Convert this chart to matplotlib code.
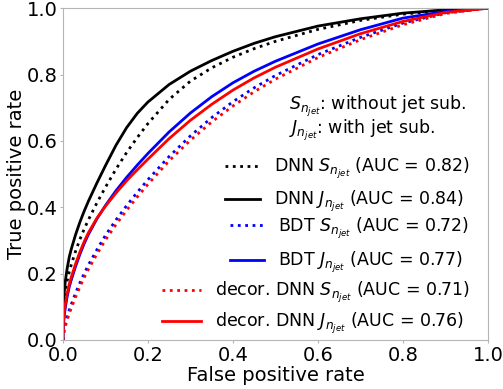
import numpy as np
import matplotlib
matplotlib.use('Agg')
import matplotlib.pyplot as plt

# ROC points
fpr = [0, 0.001, 0.003, 0.006, 0.01, 0.015, 0.02, 0.03, 0.04, 0.05, 0.06, 0.08,
       0.1, 0.125, 0.15, 0.175, 0.2, 0.25, 0.3, 0.35, 0.4, 0.45, 0.5,
       0.6, 0.7, 0.8, 0.9, 1.0]

tpr_dnn_s = [0, 0.07, 0.115, 0.15, 0.178, 0.205, 0.228, 0.268, 0.303, 0.334, 0.362, 0.413,
             0.46, 0.515, 0.565, 0.61, 0.652, 0.725, 0.78, 0.82, 0.852, 0.878, 0.9,
             0.936, 0.963, 0.982, 0.994, 1.0]
tpr_dnn_j = [0, 0.09, 0.14, 0.18, 0.215, 0.25, 0.275, 0.318, 0.355, 0.388, 0.418, 0.473,
             0.525, 0.587, 0.64, 0.683, 0.717, 0.77, 0.81, 0.842, 0.87, 0.894, 0.914,
             0.946, 0.968, 0.985, 0.995, 1.0]
tpr_bdt_s = [0, 0.015, 0.03, 0.05, 0.07, 0.09, 0.108, 0.142, 0.172, 0.2, 0.226, 0.272,
             0.315, 0.362, 0.405, 0.445, 0.483, 0.553, 0.615, 0.67, 0.718, 0.76, 0.797,
             0.86, 0.912, 0.955, 0.986, 1.0]
tpr_bdt_j = [0, 0.04, 0.07, 0.1, 0.13, 0.16, 0.182, 0.222, 0.258, 0.29, 0.318, 0.365,
             0.405, 0.45, 0.49, 0.527, 0.562, 0.627, 0.684, 0.733, 0.775, 0.81, 0.84,
             0.892, 0.935, 0.97, 0.99, 1.0]
tpr_dec_s = [0, 0.012, 0.025, 0.042, 0.06, 0.08, 0.097, 0.13, 0.16, 0.188, 0.213, 0.259,
             0.301, 0.348, 0.391, 0.431, 0.469, 0.54, 0.602, 0.657, 0.705, 0.748, 0.786,
             0.851, 0.905, 0.95, 0.984, 1.0]
tpr_dec_j = [0, 0.05, 0.08, 0.11, 0.14, 0.168, 0.19, 0.23, 0.265, 0.296, 0.323, 0.367,
             0.403, 0.443, 0.48, 0.513, 0.545, 0.607, 0.662, 0.71, 0.753, 0.79, 0.822,
             0.877, 0.923, 0.96, 0.987, 1.0]

auc = {'dnn_s': 0.82, 'dnn_j': 0.84, 'bdt_s': 0.72, 'bdt_j': 0.77,
       'dec_s': 0.71, 'dec_j': 0.76}

S = r'$S_{n_{jet}}$'
J = r'$J_{n_{jet}}$'

plt.rcParams['font.size'] = 14
fig = plt.figure(figsize=(5.03, 3.89), dpi=100)
ax = fig.add_axes([0.125, 0.126, 0.845, 0.853])

l1, = ax.plot(fpr, tpr_dnn_s, 'k:', lw=2, label='DNN ' + S + ' (AUC = %.2f)' % auc['dnn_s'])
l2, = ax.plot(fpr, tpr_dnn_j, 'k-', lw=2, label='DNN ' + J + ' (AUC = %.2f)' % auc['dnn_j'])
l3, = ax.plot(fpr, tpr_bdt_s, 'b:', lw=2, label='BDT ' + S + ' (AUC = %.2f)' % auc['bdt_s'])
l4, = ax.plot(fpr, tpr_bdt_j, 'b-', lw=2, label='BDT ' + J + ' (AUC = %.2f)' % auc['bdt_j'])
l5, = ax.plot(fpr, tpr_dec_s, 'r:', lw=2, label='decor. DNN ' + S + ' (AUC = %.2f)' % auc['dec_s'])
l6, = ax.plot(fpr, tpr_dec_j, 'r-', lw=2, label='decor. DNN ' + J + ' (AUC = %.2f)' % auc['dec_j'])

ax.set_xlim(0, 1)
ax.set_ylim(0, 1)
ax.set_xlabel('False positive rate', labelpad=1)
ax.set_ylabel('True positive rate', labelpad=0)
for sp in ax.spines.values():
    sp.set_color('#b5b5b5')
ax.tick_params(length=2, color='#b5b5b5', pad=2)

fs = 12.5
leg1 = ax.legend(handles=[l1, l2], loc='center right', bbox_to_anchor=(0.993, 0.466),
                 frameon=False, handlelength=2.0, fontsize=fs, labelspacing=0.45)
ax.add_artist(leg1)
leg2 = ax.legend(handles=[l3, l4], loc='center right', bbox_to_anchor=(0.993, 0.285),
                 frameon=False, handlelength=2.0, fontsize=fs, labelspacing=0.55)
ax.add_artist(leg2)
ax.legend(handles=[l5, l6], loc='center right', bbox_to_anchor=(0.993, 0.097),
          frameon=False, handlelength=2.2, fontsize=fs, labelspacing=0.35)

ax.text(0.532, 0.705, S + ': without jet sub.', transform=ax.transAxes, va='center', fontsize=fs)
ax.text(0.532, 0.633, J + ': with jet sub.', transform=ax.transAxes, va='center', fontsize=fs)

fig.savefig('out.png', dpi=100)
